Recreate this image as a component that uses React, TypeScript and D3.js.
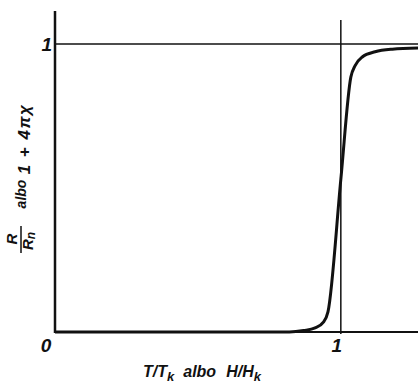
import React from 'react';
import * as d3 from 'd3';

// transition curve R/Rn vs T/Tk
const curveX = [0, 0.5, 0.82, 0.87, 0.91, 0.94, 0.955, 1.0, 1.035, 1.05, 1.075, 1.12, 1.18, 1.27];
const curveY = [0, 0, 0, 0.005, 0.014, 0.035, 0.07, 0.53, 0.885, 0.925, 0.955, 0.973, 0.982, 0.986];

const xTicks = [0, 1];
const yTicks = [1];

const W = 418;
const H = 383;

const App = () => {
  const x = d3.scaleLinear().domain([0, 1.27]).range([55, 418]);
  const y = d3.scaleLinear().domain([0, 1]).range([332, 44]);

  const points = curveX.map((v, i) => [v, curveY[i]]);
  const line = d3
    .line()
    .x((d) => x(d[0]))
    .y((d) => y(d[1]))
    .curve(d3.curveMonotoneX);

  const font = "'Liberation Sans', Arial, sans-serif";
  const ink = '#111';

  return (
    <svg
      width={W}
      height={H}
      style={{ position: 'absolute', left: 0, top: 0, background: '#fff' }}
      fontFamily={font}
      fontStyle="italic"
      fontWeight="bold"
    >
      {/* y = 1 reference line */}
      <line x1={x(0)} x2={W} y1={y(1)} y2={y(1)} stroke={ink} strokeWidth={1.5} />
      {/* x = 1 reference line */}
      <line x1={x(1)} x2={x(1)} y1={20} y2={y(0) + 2} stroke={ink} strokeWidth={1.5} />
      {/* axes */}
      <line x1={x(0)} x2={x(0)} y1={11} y2={y(0) + 1} stroke={ink} strokeWidth={2.5} />
      <line x1={x(0)} x2={W} y1={y(0)} y2={y(0)} stroke={ink} strokeWidth={2} />

      <path d={line(points)} fill="none" stroke={ink} strokeWidth={3} strokeLinejoin="round" />

      {/* tick labels */}
      {yTicks.map((t) => (
        <text key={'y' + t} x={x(0) - 3} y={y(t) + 7} fontSize={19} textAnchor="end" fill={ink}>
          {t}
        </text>
      ))}
      {xTicks.map((t) => (
        <text
          key={'x' + t}
          x={t === 0 ? x(t) - 9 : x(t) - 4}
          y={y(0) + 20}
          fontSize={19}
          textAnchor="middle"
          fill={ink}
        >
          {t}
        </text>
      ))}

      {/* x axis title */}
      <text x={143} y={377} fontSize={16} fill={ink}>
        T/T<tspan fontSize={13} dy={4}>k</tspan>
        <tspan dy={-4} dx={9}>albo</tspan>
        <tspan dx={10}>H/H</tspan>
        <tspan fontSize={13} dy={4}>k</tspan>
      </text>

      {/* y axis title */}
      <g fill={ink}>
        <text transform="translate(17,239) rotate(-90)" fontSize={15} textAnchor="middle">
          R
        </text>
        <line x1={21} x2={21} y1={226} y2={253} stroke={ink} strokeWidth={1.5} />
        <text transform="translate(33,241) rotate(-90)" fontSize={15} textAnchor="middle">
          R<tspan fontSize={12} dy={2}>n</tspan>
        </text>
        <text transform="translate(26,194) rotate(-90)" fontSize={14} textAnchor="middle">
          albo
        </text>
        <text
          transform="translate(30,139) rotate(-90)"
          fontSize={17}
          textAnchor="middle"
          letterSpacing={1.5}
        >
          1 + 4πχ
        </text>
      </g>
    </svg>
  );
};

export default App;
